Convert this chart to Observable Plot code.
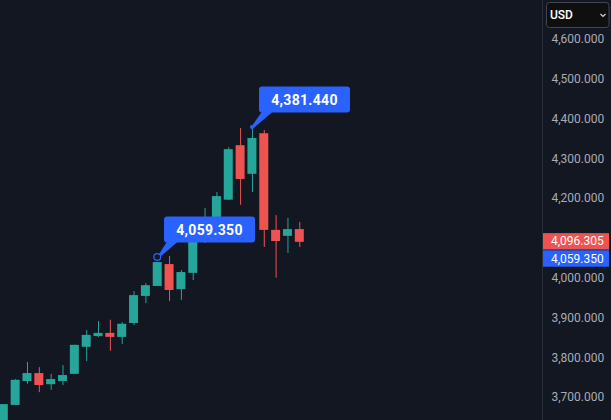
<!DOCTYPE html>
<html>
<head>
<meta charset="utf-8">
<script src="https://cdn.jsdelivr.net/npm/d3@7"></script>
<script src="https://cdn.jsdelivr.net/npm/@observablehq/plot@0.6"></script>
<style>
html,body{margin:0;padding:0;background:#131722;overflow:hidden}
svg{display:block}
</style>
</head>
<body>
<div id="chart"></div>
<script>
const opens  = [3640,3680,3740,3760,3732,3740,3758,3826,3853,3861,3851,3886,3954,3979,4034,3971,4012,4115,4150,4196,4333,4261,4363,4120,4105,4122];
const closes = [3682,3743,3760,3730,3745,3755,3831,3856,3861,3851,3884,3956,3981,4039,3969,4014,4115,4150,4205,4323,4248,4351,4120,4092,4122,4090];
const highs  = [3682,3745,3788,3775,3758,3780,3831,3868,3891,3894,3888,3966,3986,4039,4054,4019,4115,4175,4215,4328,4376,4379,4371,4157,4150,4140];
const lows   = [3640,3680,3733,3712,3718,3730,3758,3790,3851,3816,3833,3881,3936,3979,3941,3944,3994,4087,4148,4195,4183,4215,4077,4000,4062,4077];
const yTicks = [3700,3800,3900,4000,4200,4300,4400,4500,4600];
const callouts = [
  {i: 13, value: 4052, text: "4,059.350", hollow: true,  bx: 164, bw: 91},
  {i: 21, value: 4379, text: "4,381.440", hollow: false, bx: 259, bw: 91}
];
const priceTags = [
  {value: 4096.305, text: "4,096.305", fill: "#ef5350", shift: 2},
  {value: 4059.35,  text: "4,059.350", fill: "#2962ff", shift: 4.5}
];
const currency = "USD";

const candles = opens.map((o, i) => ({i, o, c: closes[i], h: highs[i], l: lows[i]}));
const color = d => d.c >= d.o ? "#26a69a" : "#ef5350";
const font = "Roboto, 'Noto Sans', sans-serif";
const svgEl = n => document.createElementNS("http://www.w3.org/2000/svg", n);
function el(parent, name, attrs, text) {
  const e = svgEl(name);
  for (const k in attrs) e.setAttribute(k, attrs[k]);
  if (text) e.textContent = text;
  parent.appendChild(e);
  return e;
}

function calloutMark(index, {x, y}) {
  const g = svgEl("g");
  for (const c of callouts) {
    const px = x(c.i), py = y(c.value);
    const boxH = 26;
    const by = py - 40.5;
    const tipX = c.bx + 3;
    const off = c.hollow ? 3 : 1;
    el(g, "path", {d: `M${px + off - 1},${py - off} L${tipX},${by + boxH - 1} L${tipX + 11},${by + boxH - 1} L${px + off + 1},${py - off + 2} Z`, fill: "#2962ff"});
    if (c.hollow) el(g, "circle", {cx: px, cy: py, r: 3.4, fill: "none", stroke: "#2962ff", "stroke-width": 1.3});
    else el(g, "circle", {cx: px, cy: py, r: 2, fill: "#2962ff"});
    el(g, "rect", {x: c.bx, y: by, width: c.bw, height: boxH, rx: 3, fill: "#2962ff"});
    el(g, "text", {x: c.bx + c.bw / 2, y: by + boxH / 2 + 0.5, "text-anchor": "middle", "dominant-baseline": "central",
      fill: "#fff", "font-family": font, "font-size": 14, "font-weight": 700, "letter-spacing": 0.3}, c.text);
  }
  return g;
}

function tagMark(index, {y}) {
  const g = svgEl("g");
  for (const t of priceTags) {
    const py = y(t.value) + t.shift;
    el(g, "rect", {x: 543, y: py - 8.2, width: 66, height: 16.4, fill: t.fill});
    el(g, "text", {x: 551, y: py, "text-anchor": "start", "dominant-baseline": "central", fill: "#fff", "font-family": font, "font-size": 12}, t.text);
  }
  return g;
}

function selectMark() {
  const g = svgEl("g");
  el(g, "rect", {x: 546.5, y: 2.5, width: 62.5, height: 25, rx: 3, fill: "#0f0f0f", stroke: "#434651"});
  el(g, "text", {x: 550, y: 15, "text-anchor": "start", "dominant-baseline": "central", fill: "#fff", "font-family": font, "font-size": 12, "font-weight": 500}, currency);
  el(g, "path", {d: "M600.5,14 L603,16.5 L605.5,14", fill: "none", stroke: "#d1d4dc", "stroke-width": 1.2});
  return g;
}

const chart = Plot.plot({
  width: 611,
  height: 420,
  marginLeft: 0,
  marginTop: 0,
  marginBottom: 0,
  marginRight: 69,
  style: {background: "#131722", fontFamily: font},
  x: {domain: [-0.28, 45.5], axis: null},
  y: {domain: [3642, 4698], axis: null},
  marks: [
    Plot.ruleX(candles, {x: "i", y1: "l", y2: "h", stroke: color, strokeWidth: 1}),
    Plot.rect(candles, {x1: d => d.i - 0.38, x2: d => d.i + 0.38, y1: "o", y2: "c", fill: color}),
    Plot.frame({anchor: "right", stroke: "#2a2e39"}),
    Plot.axisY({anchor: "right", ticks: yTicks, tickSize: 0, tickPadding: 9, tickFormat: d3.format(",.3f"), fill: "#a9acb5", fontSize: 12}),
    calloutMark,
    tagMark,
    selectMark
  ]
});
document.getElementById("chart").appendChild(chart);
</script>
</body>
</html>
